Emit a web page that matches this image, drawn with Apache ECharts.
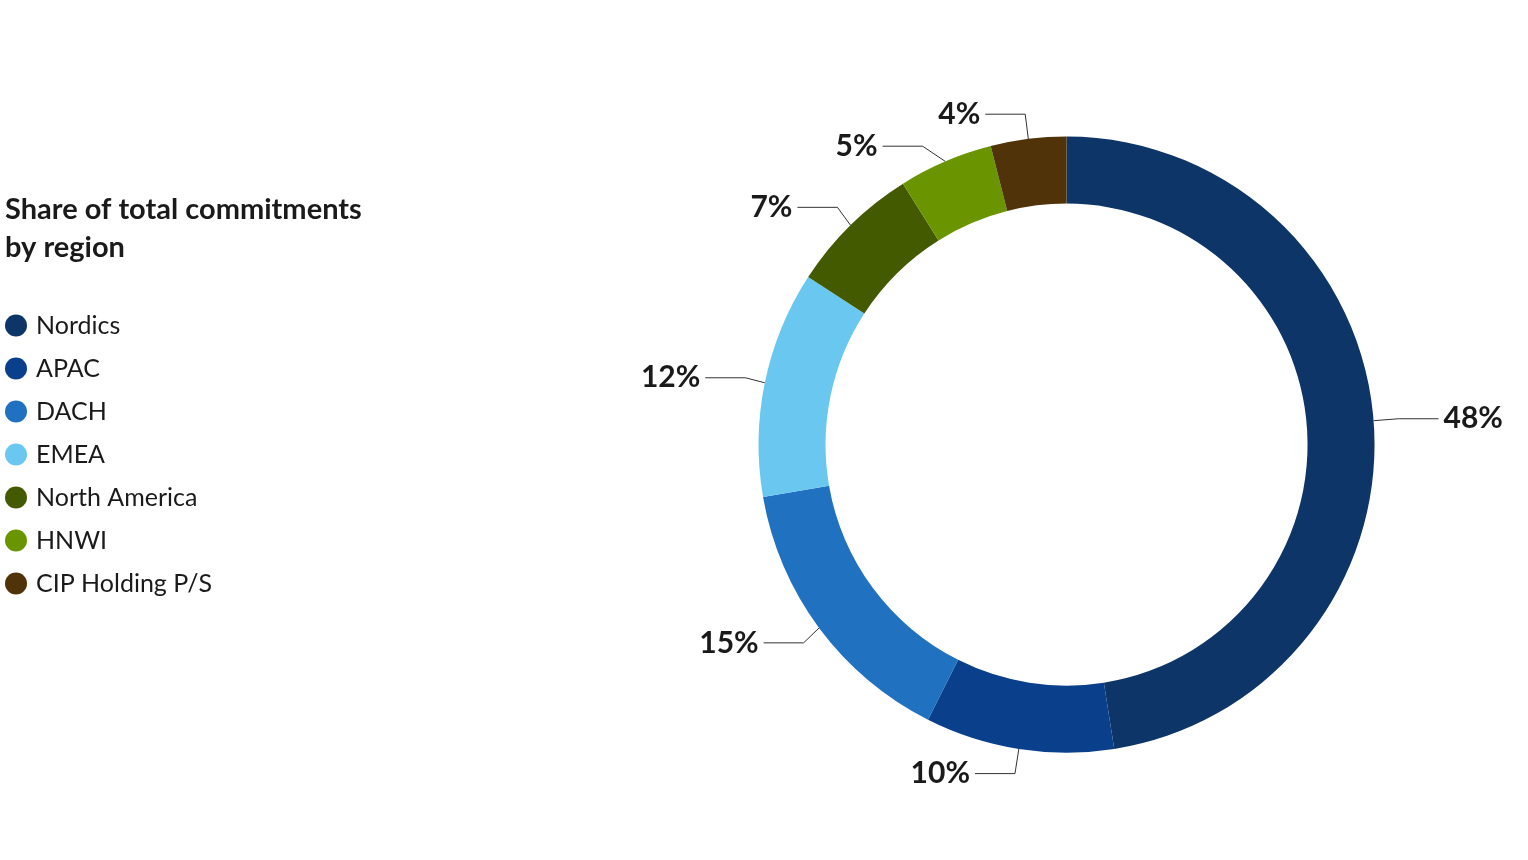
<!DOCTYPE html>
<html><head><meta charset="utf-8">
<script src="https://cdn.jsdelivr.net/npm/echarts@6/dist/echarts.min.js"></script>
<style>html,body{margin:0;padding:0;background:#fff}#c{width:1528px;height:860px}</style>
</head><body><div id="c"></div>
<script>
const categories = ['Nordics','APAC','DACH','EMEA','North America','HNWI','CIP Holding P/S'];
const values = [48,10,15,12,7,5,4];
const colors = ['#0e3568','#0a3f8c','#2072c0','#6ac8f0','#445a00','#6a9500','#51330a'];
const chart = echarts.init(document.getElementById('c'));
chart.setOption({
  animation:false,
  title:{text:'Share of total commitments\nby region',left:0,top:186,textStyle:{fontFamily:'Lato',fontSize:29,fontWeight:'bold',color:'#1a1a1a',lineHeight:38}},
  legend:{orient:'vertical',left:0,top:308,icon:'circle',itemWidth:22,itemHeight:22,itemGap:18,
    textStyle:{fontFamily:'Lato',fontSize:25,color:'#1a1a1a',padding:[0,0,0,4]},data:categories},
  series:[{type:'pie',center:['69.8%','51.7%'],radius:[241,308],startAngle:90,clockwise:true,
    data:categories.map((n,i)=>({name:n,value:values[i],itemStyle:{color:colors[i]}})),
    label:{formatter:'{c}%',fontFamily:'Lato',fontSize:30,fontWeight:'bold',color:'#1a1a1a'},
    labelLine:{length:25,length2:40,lineStyle:{color:'#333',width:1}}
  }]
});
</script></body></html>
